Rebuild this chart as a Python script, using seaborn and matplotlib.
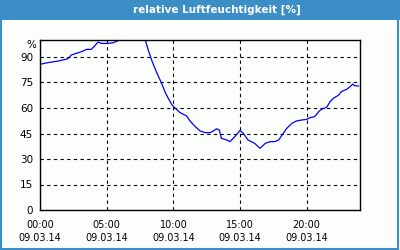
import matplotlib
matplotlib.use("Agg")
import matplotlib.pyplot as plt
from matplotlib.patches import Rectangle
import seaborn as sns
import pandas as pd

# --- data -----------------------------------------------------------------
hours = [0.0, 0.6, 1.35, 2.1, 2.35, 3.1, 3.5, 3.85, 4.1, 4.35, 4.6, 5.1, 5.5,
         5.85, 6.1, 6.75, 7.5, 7.9, 8.1, 8.4, 8.75, 9.1, 9.4, 9.6, 9.9, 10.1,
         10.5, 11.0, 11.25, 11.6, 12.0, 12.4, 12.75, 13.0, 13.25, 13.45, 13.6,
         14.0, 14.25, 14.6, 15.0, 15.25, 15.6, 16.1, 16.5, 16.9, 17.25, 17.6,
         17.9, 18.25, 18.5, 18.9, 19.25, 19.6, 20.0, 20.25, 20.6, 20.9, 21.1,
         21.5, 21.75, 22.0, 22.4, 22.6, 23.0, 23.25, 23.45, 23.6, 23.9]
humidity = [85.7, 86.7, 87.6, 89.0, 91.2, 93.1, 94.5, 94.5, 96.5, 98.8, 98.0,
            98.0, 98.4, 99.6, 101.0, 103.0, 102.0, 100.0, 94.5, 87.6, 80.8,
            74.9, 69.0, 66.0, 61.8, 60.2, 57.3, 55.3, 52.4, 49.4, 46.5, 45.5,
            45.5, 46.5, 47.8, 47.0, 42.2, 41.2, 40.2, 43.1, 46.7, 45.1, 41.2,
            39.2, 36.3, 39.2, 40.2, 40.2, 41.2, 45.1, 48.0, 51.0, 52.4, 52.9,
            53.3, 54.3, 54.9, 57.8, 59.2, 60.4, 63.7, 65.7, 67.6, 69.6, 71.0,
            72.5, 74.1, 73.1, 72.9]
x_ticks = [0, 5, 10, 15, 20]
x_labels = ["00:00\n09.03.14", "05:00\n09.03.14", "10:00\n09.03.14",
            "15:00\n09.03.14", "20:00\n09.03.14"]
y_ticks = [0, 15, 30, 45, 60, 75, 90]
title = "relative Luftfeuchtigkeit [%]"
unit = "%"

df = pd.DataFrame({"hour": hours, "rh": humidity})

# --- style ----------------------------------------------------------------
sns.set_theme(style="white")
plt.rcParams["font.family"] = ["DejaVu Sans"]
plt.rcParams["font.size"] = 7

BLUE_BAR = "#3b8ec6"
BG = "#fcfefc"

fig = plt.figure(figsize=(4, 2.5), dpi=100, facecolor=BG)
ax = fig.add_axes([0.1, 0.16, 0.8, 0.68])
ax.set_facecolor(BG)

sns.lineplot(data=df, x="hour", y="rh", ax=ax, color="#0000ff", linewidth=0.9)

ax.set_xlim(0, 24)
ax.set_ylim(0, 100)
ax.set_xticks(x_ticks)
ax.set_xticklabels(x_labels, fontsize=7, linespacing=1.45)
ax.set_xticks(range(0, 25), minor=True)
ax.set_yticks(y_ticks)
ax.set_yticklabels([str(v) for v in y_ticks], fontsize=7.5)
ax.set_xlabel("")
ax.set_ylabel("")

ax.tick_params(axis="x", which="both", direction="out", length=3, width=0.8,
               color="black", pad=4, labelcolor="black")
ax.tick_params(axis="y", which="both", direction="out", length=0, pad=5,
               labelcolor="black")

ax.grid(True, which="major", color="black", linestyle=(0, (3, 3)), linewidth=0.8)
for s in ax.spines.values():
    s.set_visible(True)
    s.set_color("black")
    s.set_linewidth(1.0)

# title bar and frame
fig.patches.append(Rectangle((0, 230 / 250), 1, 20 / 250, transform=fig.transFigure,
                             facecolor=BLUE_BAR, edgecolor="none", zorder=0))
fig.patches.append(Rectangle((0.002, 0.004), 0.994, 0.994, transform=fig.transFigure,
                             facecolor="none", edgecolor=BLUE_BAR, linewidth=1.5, zorder=1))
fig.text(217 / 400, 1 - 10 / 250, title, color="white", fontsize=7.5,
         fontweight="bold", ha="center", va="center")
fig.text(36 / 400, 1 - 45.5 / 250, unit, color="black", fontsize=7.5,
         ha="right", va="center")

fig.savefig("out.png", dpi=100, facecolor=BG)
